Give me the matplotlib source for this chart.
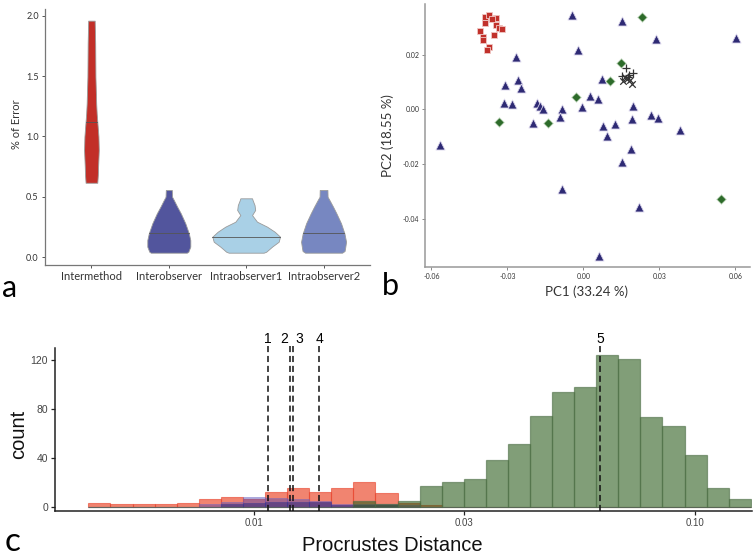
import numpy as np
import matplotlib
matplotlib.use("Agg")
import matplotlib.pyplot as plt

plt.rcParams['font.family'] = ['Lato', 'DejaVu Sans']

# ---------------- panel a: violins (profile) ----------------
groups = ['Intermethod', 'Interobserver', 'Intraobserver1', 'Intraobserver2']
violin_colors = ['#c22f28', '#52559d', '#a9d0e6', '#7787c1']
medians = [1.122, 0.202, 0.169, 0.202]

# y levels and density (relative width) of each violin
v_levels = [
    [0.616, 0.680, 0.749, 0.887, 1.000, 1.108, 1.190, 1.274, 1.495, 1.772, 1.960],
    [0.036, 0.044, 0.086, 0.141, 0.197, 0.280, 0.362, 0.418, 0.473, 0.500, 0.556],
    [0.036, 0.044, 0.086, 0.127, 0.169, 0.210, 0.252, 0.293, 0.348, 0.390, 0.431, 0.470, 0.487],
    [0.036, 0.050, 0.072, 0.127, 0.196, 0.279, 0.362, 0.417, 0.473, 0.500, 0.556],
]
v_dens = [
    [11.7, 12.8, 13.3, 14.7, 14.0, 12.0, 10.5, 9.5, 8.0, 7.5, 6.5],
    [36.0, 39.0, 43.0, 43.0, 40.0, 33.0, 24.0, 16.7, 10.0, 6.5, 6.0],
    [35.0, 40.0, 51.7, 65.0, 67.7, 57.0, 41.7, 21.7, 11.7, 18.0, 16.7, 13.0, 11.7],
    [37.0, 42.0, 43.0, 45.0, 41.7, 35.0, 25.7, 19.0, 11.7, 8.0, 7.7],
]

# ---------------- panel b: PCA scores ----------------
sq_x = [-0.0388, -0.0372, -0.0345, -0.0362, -0.0388, -0.0346, -0.0333, -0.0322,
        -0.0408, -0.0353, -0.0395, -0.0395, -0.0371, -0.0379]
sq_y = [0.0339, 0.0344, 0.0335, 0.0329, 0.0314, 0.0310, 0.0298, 0.0294,
        0.0286, 0.0271, 0.0265, 0.0255, 0.0227, 0.0218]
tri_x = [-0.0043, 0.0154, 0.0287, 0.0601, -0.0021, -0.0266, -0.0309, -0.0259, -0.0246,
         0.0075, -0.0312, -0.0283, -0.0182, -0.0171, -0.0161, -0.0083, -0.0005, 0.0026,
         0.0058, -0.0092, -0.0199, 0.0079, 0.0125, 0.0197, 0.0192, 0.0267, 0.0296,
         0.0382, 0.0092, 0.0188, 0.0151, -0.0566, -0.0084, 0.0221, 0.0062]
tri_y = [0.0344, 0.0323, 0.0258, 0.0259, 0.0216, 0.0191, 0.0088, 0.0106, 0.0079,
         0.0110, 0.0022, 0.0021, 0.0022, 0.0012, 0.0000, 0.0000, 0.0007, 0.0049,
         0.0038, -0.0027, -0.0050, -0.0061, -0.0054, 0.0012, -0.0037, -0.0020, -0.0031,
         -0.0076, -0.0099, -0.0144, -0.0194, -0.0131, -0.0293, -0.0358, -0.0536]
dia_x = [0.0230, 0.0149, 0.0105, -0.0030, -0.0332, -0.0138, 0.0542]
dia_y = [0.0339, 0.0169, 0.0104, 0.0044, -0.0047, -0.0049, -0.0328]
plus_x = [0.0168, 0.0197, 0.0154, 0.0182, 0.0175]
plus_y = [0.0151, 0.0133, 0.0123, 0.0125, 0.0118]
cross_x = [0.0158, 0.0191, 0.0171, 0.0184, 0.0164]
cross_y = [0.0102, 0.0093, 0.0110, 0.0108, 0.0118]

# ---------------- panel c: histograms of Procrustes distance ----------------
bin_lo, bin_hi, n_bins = 0.00421, 0.1340, 30
cnt_red = [3, 2, 2, 2, 3, 6, 8, 6, 12, 15, 12, 15, 20, 11, 3, 1] + [0] * 14
cnt_blue_a = [0, 0, 0, 0, 0, 2, 4, 8, 7, 6, 5, 2, 2, 2, 1] + [0] * 15
cnt_blue_b = [0, 0, 0, 0, 0, 0, 2, 3, 4, 4, 4, 1, 1, 1, 0] + [0] * 15
cnt_green = [0] * 12 + [5, 2, 5, 17, 20, 23, 38, 51, 74, 94, 98, 124, 121, 73, 66, 42, 15, 6]
vlines = [0.01074, 0.01209, 0.01228, 0.01406, 0.0611]
vline_labels = ['1', '2', '3', '4', '5']
vline_ha = ['center', 'right', 'left', 'center', 'center']

W, H = 755, 558
fig = plt.figure(figsize=(W / 100, H / 100), dpi=100)

# ----- a -----
ax_a = fig.add_axes([45 / W, 1 - 265 / H, 325 / W, 256.4 / H])
scale = 1 / 154.8
for i, (lv, dn) in enumerate(zip(v_levels, v_dens)):
    pos = i + 1
    lv = np.array(lv)
    hw = np.array(dn) * scale
    ax_a.fill_betweenx(lv, pos - hw, pos + hw, facecolor=violin_colors[i],
                       edgecolor='#9a9a9a', linewidth=0.6, zorder=2)
    mw = np.interp(medians[i], lv, hw)
    ax_a.plot([pos - mw, pos + mw], [medians[i]] * 2, color='#555555', lw=0.6, zorder=3)
ax_a.set_xlim(0.4, 4.6)
ax_a.set_ylim(-0.066, 2.06)
ax_a.set_xticks(range(1, 5))
ax_a.set_xticklabels(groups, fontsize=8, color='#333333')
ax_a.set_yticks([0, 0.5, 1.0, 1.5, 2.0])
ax_a.set_yticklabels(['0.0', '0.5', '1.0', '1.5', '2.0'], fontsize=6.5, color='#333333')
ax_a.set_ylabel('% of Error', fontsize=8, color='#333333')
ax_a.yaxis.set_label_coords(-0.071, 0.55)
for s in ['top', 'right']:
    ax_a.spines[s].set_visible(False)
for s in ['left', 'bottom']:
    ax_a.spines[s].set_color('#777777')
    ax_a.spines[s].set_linewidth(0.9)
ax_a.tick_params(length=2.5, width=0.7, color='#555555', pad=2)

# ----- b -----
ax_b = fig.add_axes([425 / W, 1 - 267 / H, 325 / W, 263 / H])
ax_b.scatter(tri_x, tri_y, marker='^', s=42, color='#2e2a74', edgecolor='#d8d4ea',
             linewidth=0.6, zorder=3)
ax_b.scatter(dia_x, dia_y, marker='D', s=24, color='#2d6b2a', edgecolor='#d4e4d0',
             linewidth=0.6, zorder=3)
ax_b.scatter(sq_x, sq_y, marker='s', s=24, color='#c1312b', edgecolor='#f0c8c4',
             linewidth=0.6, zorder=3)
ax_b.scatter(plus_x, plus_y, marker='+', s=40, color='#333333', linewidth=0.9, zorder=4)
ax_b.scatter(cross_x, cross_y, marker='x', s=22, color='#333333', linewidth=0.9, zorder=4)
ax_b.set_xlim(-0.0625, 0.0658)
ax_b.set_ylim(-0.0577, 0.0385)
ax_b.set_xticks([-0.06, -0.03, 0, 0.03, 0.06])
ax_b.set_xticklabels(['-0.06', '-0.03', '0.00', '0.03', '0.06'], fontsize=5, color='#333333')
ax_b.set_yticks([-0.04, -0.02, 0, 0.02])
ax_b.set_yticklabels(['-0.04', '-0.02', '0.00', '0.02'], fontsize=5, color='#333333')
ax_b.set_xlabel('PC1 (33.24 %)', fontsize=9.5, color='#333333')
ax_b.set_ylabel('PC2 (18.55 %)', fontsize=9.5, color='#333333')
ax_b.xaxis.set_label_coords(0.498, -0.072)
ax_b.yaxis.set_label_coords(-0.095, 0.5)
for s in ['top', 'right']:
    ax_b.spines[s].set_visible(False)
for s in ['left', 'bottom']:
    ax_b.spines[s].set_color('#999999')
    ax_b.spines[s].set_linewidth(1.1)
ax_b.tick_params(length=2, width=0.6, color='#777777', pad=2)

# ----- c -----
ax_c = fig.add_axes([55 / W, 1 - 511 / H, 697 / W, 162.7 / H])
edges = np.geomspace(bin_lo, bin_hi, n_bins + 1)
widths = np.diff(edges)
left = edges[:-1]
ax_c.bar(left, cnt_red, width=widths, align='edge', color='#e93211', alpha=0.6,
         edgecolor='#e8432c', linewidth=0.8, zorder=2)
ax_c.bar(left, cnt_blue_a, width=widths, align='edge', color='#4a42b0', alpha=0.45,
         edgecolor='#6a66c8', linewidth=0.6, zorder=3)
ax_c.bar(left, cnt_blue_b, width=widths, align='edge', color='#27237a', alpha=0.5,
         edgecolor='#3a3690', linewidth=0.6, zorder=3)
ax_c.bar(left, cnt_green, width=widths, align='edge', color='#2e5e1e', alpha=0.6,
         edgecolor='#4d6e45', linewidth=0.9, zorder=4)
ax_c.set_xscale('log')
ax_c.set_xlim(10 ** -2.4515, 10 ** -0.8702)
ax_c.set_ylim(-3.5, 129.6)
for v, lab, ha in zip(vlines, vline_labels, vline_ha):
    ax_c.plot([v, v], [-3.5, 132], color='#111111', lw=1.1, ls=(0, (4, 2.5)),
              clip_on=False, zorder=5)
    off = {'center': 0, 'right': -1.5, 'left': 1.5}[ha]
    ax_c.annotate(lab, (v, 137.5), xytext=(off, 0), textcoords='offset points',
                  ha=ha, va='center', fontsize=10, family='Liberation Sans',
                  annotation_clip=False)
ax_c.set_xticks([0.01, 0.03, 0.10])
ax_c.set_xticklabels(['0.01', '0.03', '0.10'], fontsize=7, color='#444444',
                     family='Liberation Sans')
ax_c.xaxis.set_minor_locator(matplotlib.ticker.NullLocator())
ax_c.set_yticks([0, 40, 80, 120])
ax_c.set_yticklabels(['0', '40', '80', '120'], fontsize=7.5, color='#444444',
                     family='Liberation Sans')
ax_c.set_xlabel('Procrustes Distance', fontsize=14.5, family='Liberation Sans', color='#111111')
ax_c.set_ylabel('count', fontsize=14.5, family='Liberation Sans', color='#111111')
ax_c.xaxis.set_label_coords(0.4835, -0.155)
ax_c.yaxis.set_label_coords(-0.039, 0.473)
for s in ['top', 'right']:
    ax_c.spines[s].set_visible(False)
for s in ['left', 'bottom']:
    ax_c.spines[s].set_color('#222222')
    ax_c.spines[s].set_linewidth(1.1)
ax_c.tick_params(length=3, width=0.9, color='#222222', pad=2)

# panel letters
fig.text(10 / W, 1 - 288 / H, 'a', fontsize=22, ha='center', va='center')
fig.text(390 / W, 1 - 286 / H, 'b', fontsize=22, ha='center', va='center')
fig.text(13 / W, 1 - 542 / H, 'c', fontsize=24, ha='center', va='center')

fig.savefig('out.png', dpi=100, facecolor='white')
